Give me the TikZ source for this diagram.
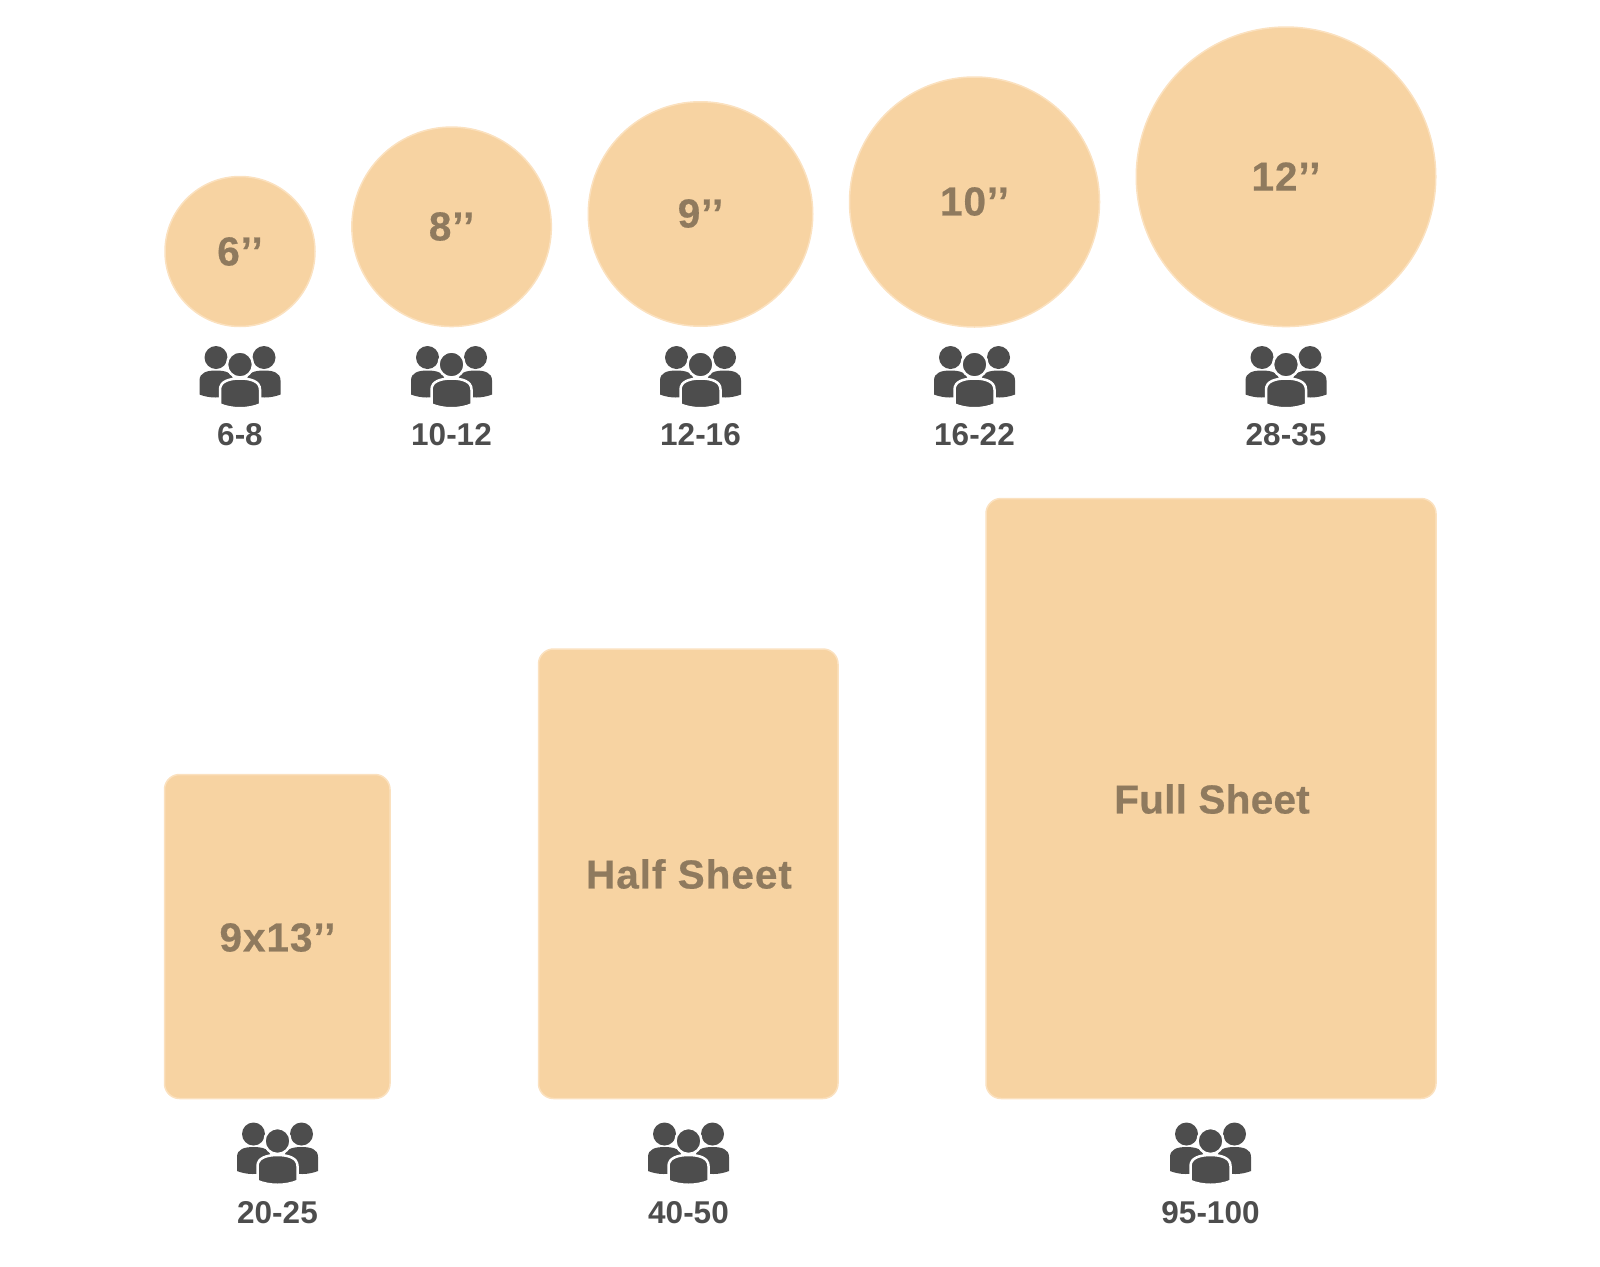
\documentclass[tikz,border=0pt]{standalone}
\usepackage{fontspec}
\setmainfont{Liberation Sans}
\newfontfamily\bigfont[LetterSpace=2.4,FakeBold=0.5]{Liberation Sans}
\newfontfamily\tightfont[LetterSpace=0.6,FakeBold=0.5]{Liberation Sans}
\definecolor{cake}{HTML}{F7D3A2}
\definecolor{cakeedge}{HTML}{FBE1BF}
\definecolor{caketext}{HTML}{8F7A5E}
\definecolor{icon}{HTML}{4D4D4D}
\tikzset{
  x=1pt,y=-1pt,
  cakecircle/.style={circle,draw=cakeedge,fill=cake,line width=1.5pt,inner sep=0pt,minimum size=#1},
  cakesheet/.style={fill=cake,draw=cakeedge,line width=1.5pt,rounded corners=15pt},
  sizelabel/.style={text=caketext,font=\bigfont\bfseries\fontsize{40.5}{48}\selectfont,inner sep=0pt},
  tightlabel/.style={text=caketext,font=\tightfont\bfseries\fontsize{40.5}{48}\selectfont,inner sep=0pt},
  countlabel/.style={text=icon,font=\bfseries\fontsize{31.5}{37}\selectfont,inner sep=0pt},
  people/.pic={
    \fill[icon] (-24,-20) circle[radius=11.5];
    \fill[icon] (24,-20) circle[radius=11.5];
    \fill[icon] (-40.5,17) -- (-40.5,3) .. controls (-40.5,-5) and (-33,-7) .. (-24,-7) .. controls (-15,-7) and (-7,-5) .. (-7,3) -- (-7,17) .. controls (-20,21) and (-30,21) .. (-40.5,17) -- cycle;
    \fill[icon] (40.5,17) -- (40.5,3) .. controls (40.5,-5) and (33,-7) .. (24,-7) .. controls (15,-7) and (7,-5) .. (7,3) -- (7,17) .. controls (20,21) and (30,21) .. (40.5,17) -- cycle;
    \fill[icon,draw=white,line width=2.5pt] (-20,27) -- (-20,12) .. controls (-20,4) and (-11,1) .. (0,1) .. controls (11,1) and (20,4) .. (20,12) -- (20,27) .. controls (8,32) and (-8,32) .. (-20,27) -- cycle;
    \fill[icon,draw=white,line width=2.5pt] (0,-13) circle[radius=13];
  }
}
\begin{document}
\begin{tikzpicture}
\useasboundingbox (0,0) rectangle (1600,1266);
\node[cakecircle=150pt] (c6) at (240,251.5) {};
\node[cakecircle=199.5pt] (c8) at (451.6,226.8) {};
\node[cakecircle=224.5pt] (c9) at (700.5,214) {};
\node[cakecircle=250pt] (c10) at (974.5,202) {};
\node[cakecircle=299.5pt] (c12) at (1286,176.8) {};
\node[sizelabel] (t6) at (240,251.5) {6’’};
\node[sizelabel] (t8) at (451.6,226.5) {8’’};
\node[sizelabel] (t9) at (700.5,213.5) {9’’};
\node[sizelabel] (t10) at (974.5,201.5) {10’’};
\node[sizelabel] (t12) at (1286,176.5) {12’’};
\path[cakesheet] (164.5,774.5) rectangle (390,1098.5);
\path[cakesheet] (538.5,649) rectangle (838,1098.5);
\path[cakesheet] (986,498.5) rectangle (1436,1098.5);
\node[sizelabel] (t913) at (277.5,937.5) {9x13’’};
\node[sizelabel] (thalf) at (689,874) {Half Sheet};
\node[tightlabel] (tfull) at (1212,799) {Full Sheet};
\foreach \x in {240,451.5,700.5,974.5,1286} \pic at (\x,377.5) {people};
\foreach \x in {277.5,688.5,1210.5} \pic at (\x,1154) {people};
\node[countlabel] (n1) at (240,435) {6-8};
\node[countlabel] (n2) at (451.5,435) {10-12};
\node[countlabel] (n3) at (700.5,435) {12-16};
\node[countlabel] (n4) at (974.5,435) {16-22};
\node[countlabel] (n5) at (1286,435) {28-35};
\node[countlabel] (n6) at (277.5,1212.5) {20-25};
\node[countlabel] (n7) at (688.5,1212.5) {40-50};
\node[countlabel] (n8) at (1210.5,1212.5) {95-100};
\end{tikzpicture}
\end{document}
